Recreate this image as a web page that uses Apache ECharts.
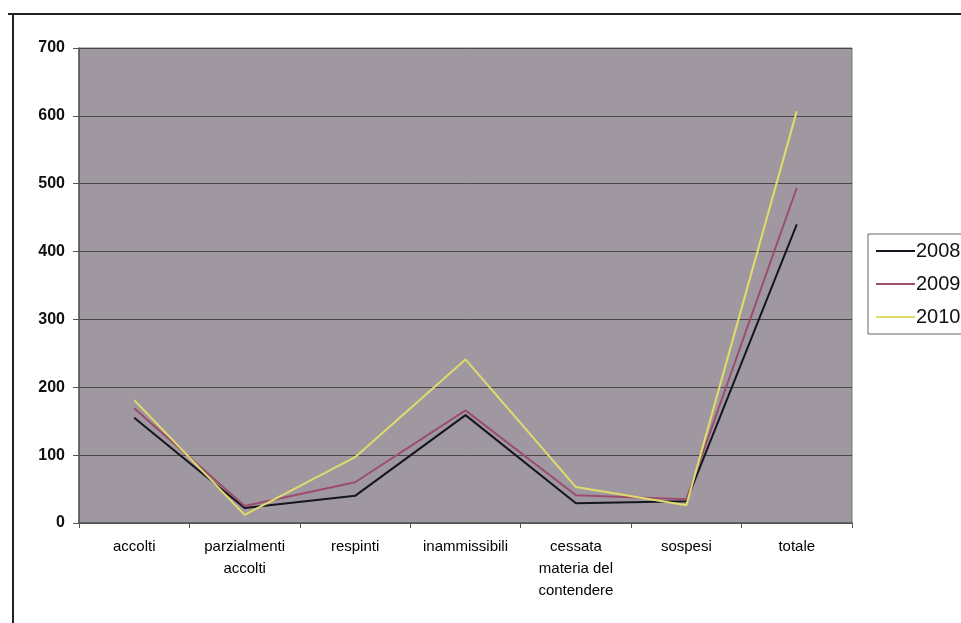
<!DOCTYPE html>
<html><head><meta charset="utf-8">
<script src="https://cdn.jsdelivr.net/npm/echarts@6/dist/echarts.min.js"></script>
<style>html,body{margin:0;padding:0;background:#fff}#c{width:961px;height:623px}</style>
</head><body><div id="c"></div>
<script>
const categories = ['accolti','parzialmenti\naccolti','respinti','inammissibili','cessata\nmateria del\ncontendere','sospesi','totale'];
const years = ['2008','2009','2010'];
const s2008 = [155, 22, 40, 159, 29, 32, 440];
const s2009 = [169, 25, 60, 166, 41, 35, 494];
const s2010 = [181, 12, 97, 241, 53, 26, 607];
const yTicks = [0,100,200,300,400,500,600,700];
const colors = ['#15151f','#9c4d6e','#e0dc6a'];

const chart = echarts.init(document.getElementById('c'));
const font = '"Liberation Sans", Arial, sans-serif';
const seriesData = [s2008, s2009, s2010];
chart.setOption({
  animation:false,
  backgroundColor:'#ffffff',
  grid:{left:79,right:109,top:48,bottom:100,show:true,backgroundColor:'#9f98a1',borderColor:'#777',borderWidth:1},
  legend:{
    orient:'vertical', left:868, top:234,
    data:years,
    icon:'rect', itemWidth:39, itemHeight:2, itemGap:13,
    borderColor:'#666', borderWidth:1, padding:[7,60,7,8],
    textStyle:{fontFamily:font,fontSize:20,color:'#111',padding:[0,0,0,-4]}
  },
  xAxis:{
    type:'category', data:categories, boundaryGap:true,
    axisLine:{lineStyle:{color:'#555',width:1.5}},
    axisTick:{show:true,interval:0,length:5,lineStyle:{color:'#555'}},
    axisLabel:{interval:0,fontFamily:font,fontSize:15,color:'#000',lineHeight:22,margin:13}
  },
  yAxis:{
    type:'value', min:yTicks[0], max:yTicks[yTicks.length-1], interval:100,
    axisLine:{show:true,lineStyle:{color:'#555',width:1.5}},
    axisTick:{show:true,length:6,lineStyle:{color:'#555'}},
    axisLabel:{fontFamily:font,fontSize:16,fontWeight:'bold',color:'#111',margin:14},
    splitLine:{show:true,lineStyle:{color:'#4a4548',width:1}}
  },
  series: years.map((y,i)=>({
    name:y, type:'line', data:seriesData[i], symbol:'none',
    lineStyle:{color:colors[i],width:2}, itemStyle:{color:colors[i]}
  })),
  graphic:[
    {type:'line',shape:{x1:8,y1:14,x2:961,y2:14},style:{stroke:'#222',lineWidth:2}},
    {type:'line',shape:{x1:13,y1:14,x2:13,y2:623},style:{stroke:'#222',lineWidth:2}}
  ]
});
</script></body></html>
